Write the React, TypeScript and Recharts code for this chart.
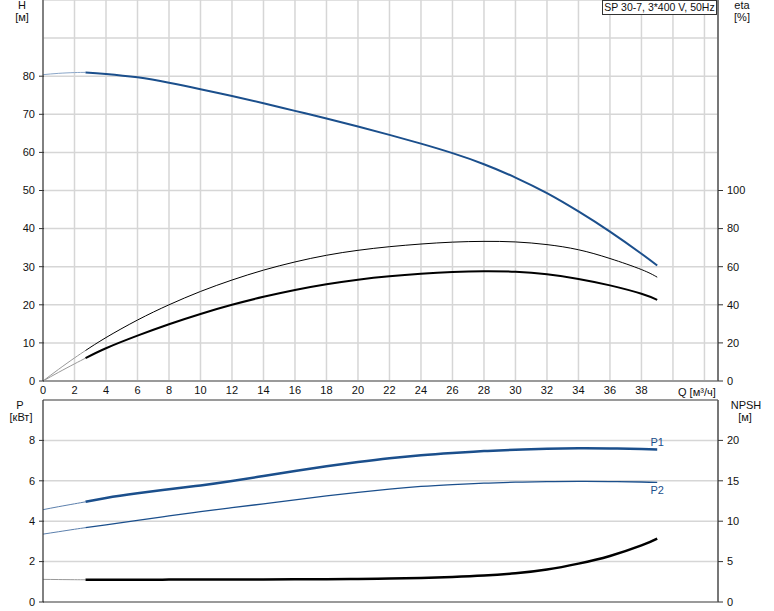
import { ComposedChart, Line, XAxis, YAxis, CartesianGrid, ReferenceLine } from "recharts";

const FONT = "'Liberation Sans', Arial, sans-serif";
const BLUE = "#1b4f8c";
const GRID = "#d6d6d6";

// flow axis
const qTicks = [0, 2, 4, 6, 8, 10, 12, 14, 16, 18, 20, 22, 24, 26, 28, 30, 32, 34, 36, 38, 40, 42];
const qMaxLabel = 38;

// curve points (Q in m3/h)
const qStart = [0, 1, 2, 2.7];
const qMain = [2.7, 4, 6, 8, 10, 12, 14, 16, 18, 20, 22, 24, 26, 28, 30, 32, 34, 36, 38, 39];

const headStart = [80.4, 80.75, 80.95, 81.0];
const headMain = [81.0, 80.6, 79.7, 78.3, 76.6, 74.8, 72.9, 70.9, 68.9, 66.8, 64.6, 62.3, 59.8, 56.9, 53.4, 49.3, 44.5, 39.2, 33.4, 30.3];

const etaUpperStart = [0, 6.2, 12.1, 16.0];
const etaUpperMain = [16.0, 22.8, 32.0, 40.0, 47.0, 53.0, 58.2, 62.5, 66.0, 68.6, 70.5, 71.9, 72.9, 73.3, 73.0, 71.6, 68.9, 64.3, 58.5, 54.5];

const etaLowerStart = [0, 4.6, 9.0, 12.0];
const etaLowerMain = [12.0, 17.2, 23.8, 29.8, 35.2, 40.0, 44.2, 47.8, 50.8, 53.2, 55.0, 56.3, 57.2, 57.6, 57.3, 56.0, 53.6, 50.2, 45.8, 42.6];

const p1Start = [4.57, 4.72, 4.86, 4.96];
const p1Main = [4.96, 5.15, 5.38, 5.58, 5.77, 5.99, 6.24, 6.49, 6.72, 6.93, 7.12, 7.27, 7.38, 7.47, 7.54, 7.59, 7.61, 7.6, 7.57, 7.55];

const p2Start = [3.36, 3.48, 3.6, 3.68];
const p2Main = [3.68, 3.82, 4.04, 4.26, 4.47, 4.67, 4.86, 5.06, 5.25, 5.43, 5.59, 5.72, 5.81, 5.88, 5.93, 5.96, 5.97, 5.96, 5.94, 5.92];

const npshStart = [2.8, 2.78, 2.76, 2.75];
const npshMain = [2.75, 2.75, 2.76, 2.77, 2.78, 2.79, 2.8, 2.81, 2.83, 2.86, 2.91, 2.98, 3.1, 3.27, 3.55, 4.02, 4.75, 5.7, 7.0, 7.85];

// axis ticks
const hTicks = [0, 10, 20, 30, 40, 50, 60, 70, 80, 90, 100];
const hMaxLabel = 80;
const etaTicks = [0, 20, 40, 60, 80, 100];
const pTicks = [0, 2, 4, 6, 8, 10];
const pMaxLabel = 8;
const npshTicks = [0, 5, 10, 15, 20];

const pts = (q: number[], v: number[]) => q.map((x, i) => ({ q: x, v: v[i] }));

const leftTick = (maxLabel: number) => (props: any) => {
  const { x, y, payload } = props;
  if (payload.value > maxLabel) return null;
  return (
    <g>
      <line x1={x + 4} x2={x + 9} y1={y} y2={y} stroke="#333" />
      <text x={x} y={y} dy="0.35em" textAnchor="end" fontSize={11} fontFamily={FONT} fill="#111">
        {payload.value}
      </text>
    </g>
  );
};

const rightTick = (props: any) => {
  const { x, y, payload } = props;
  return (
    <g>
      <line x1={x - 9} x2={x - 4} y1={y} y2={y} stroke="#333" />
      <text x={x} y={y} dy="0.35em" textAnchor="start" fontSize={11} fontFamily={FONT} fill="#111">
        {payload.value}
      </text>
    </g>
  );
};

const bottomTick = (props: any) => {
  const { x, y, payload } = props;
  if (payload.value > qMaxLabel) return null;
  return (
    <text x={x} y={y} dy="0.71em" textAnchor="middle" fontSize={11} fontFamily={FONT} fill="#111">
      {payload.value}
    </text>
  );
};

const endLabel = (text: string, dy: number, count: number) => (props: any) => {
  if (props.index !== count - 1) return null;
  return (
    <text x={props.x} y={props.y + dy} textAnchor="middle" fontSize={11} fontFamily={FONT} fill={BLUE}>
      {text}
    </text>
  );
};

const Txt = ({ x, y, children, anchor = "center" }: any) => (
  <div
    style={{
      position: "absolute",
      left: x,
      top: y,
      transform: anchor === "center" ? "translate(-50%, -50%)" : "translate(0, -50%)",
      fontFamily: FONT,
      fontSize: 11,
      color: "#111",
      whiteSpace: "nowrap",
      lineHeight: "12px",
    }}
  >
    {children}
  </div>
);

export default function App() {
  return (
    <div style={{ position: "absolute", left: 0, top: 0, width: 774, height: 611, background: "#fff" }}>
      <div style={{ position: "absolute", left: 0, top: 0 }}>
        <ComposedChart width={774} height={400} margin={{ top: 0, right: 0, bottom: 0, left: 0 }}>
          <CartesianGrid stroke={GRID} strokeWidth={1.5} yAxisId="h" xAxisId="q" />
          <XAxis
            xAxisId="q"
            type="number"
            dataKey="q"
            domain={[0, 42.86]}
            ticks={qTicks}
            allowDataOverflow
            height={19}
            tickLine={false}
            tickSize={0}
            tickMargin={5}
            axisLine={{ stroke: "#9a9a9a", strokeWidth: 2 }}
            tick={bottomTick}
          />
          <YAxis
            yAxisId="h"
            orientation="left"
            width={43}
            domain={[0, 100]}
            ticks={hTicks}
            tickLine={false}
            tickSize={4}
            tickMargin={4}
            axisLine={{ stroke: "#222" }}
            tick={leftTick(hMaxLabel)}
          />
          <YAxis
            yAxisId="eta"
            orientation="right"
            width={56}
            domain={[0, 200]}
            ticks={etaTicks}
            tickLine={false}
            tickSize={5}
            tickMargin={4}
            axisLine={{ stroke: "#555", strokeWidth: 1.5 }}
            tick={rightTick}
          />
          <Line xAxisId="q" yAxisId="h" data={pts(qStart, headStart)} dataKey="v" type="natural" stroke="#8aa6c8" strokeWidth={1} dot={false} isAnimationActive={false} />
          <Line xAxisId="q" yAxisId="h" data={pts(qMain, headMain)} dataKey="v" type="natural" stroke={BLUE} strokeWidth={2} dot={false} isAnimationActive={false} />
          <Line xAxisId="q" yAxisId="eta" data={pts(qStart, etaUpperStart)} dataKey="v" type="natural" stroke="#999" strokeWidth={1} dot={false} isAnimationActive={false} />
          <Line xAxisId="q" yAxisId="eta" data={pts(qMain, etaUpperMain)} dataKey="v" type="natural" stroke="#000" strokeWidth={1} dot={false} isAnimationActive={false} />
          <Line xAxisId="q" yAxisId="eta" data={pts(qStart, etaLowerStart)} dataKey="v" type="natural" stroke="#999" strokeWidth={1} dot={false} isAnimationActive={false} />
          <Line xAxisId="q" yAxisId="eta" data={pts(qMain, etaLowerMain)} dataKey="v" type="natural" stroke="#000" strokeWidth={2} dot={false} isAnimationActive={false} />
        </ComposedChart>
      </div>

      <div style={{ position: "absolute", left: 0, top: 395 }}>
        <ComposedChart width={774} height={216} margin={{ top: 5, right: 0, bottom: 0, left: 0 }}>
          <CartesianGrid stroke={GRID} strokeWidth={1.5} yAxisId="p" xAxisId="q" />
          <XAxis
            xAxisId="q"
            type="number"
            dataKey="q"
            domain={[0, 42.86]}
            ticks={qTicks}
            allowDataOverflow
            height={9}
            tick={false}
            tickLine={false}
            axisLine={{ stroke: "#9a9a9a", strokeWidth: 2 }}
          />
          <YAxis
            yAxisId="p"
            orientation="left"
            width={43}
            domain={[0, 10]}
            ticks={pTicks}
            tickLine={false}
            tickSize={4}
            tickMargin={4}
            axisLine={{ stroke: "#222" }}
            tick={leftTick(pMaxLabel)}
          />
          <YAxis
            yAxisId="npsh"
            orientation="right"
            width={56}
            domain={[0, 25]}
            ticks={npshTicks}
            tickLine={false}
            tickSize={5}
            tickMargin={4}
            axisLine={{ stroke: "#555", strokeWidth: 1.5 }}
            tick={rightTick}
          />
          <ReferenceLine xAxisId="q" yAxisId="p" y={10} stroke="#9a9a9a" strokeWidth={2} />
          <Line xAxisId="q" yAxisId="p" data={pts(qStart, p1Start)} dataKey="v" type="natural" stroke="#5c80ad" strokeWidth={1} dot={false} isAnimationActive={false} />
          <Line
            xAxisId="q"
            yAxisId="p"
            data={pts(qMain, p1Main)}
            dataKey="v"
            type="natural"
            stroke={BLUE}
            strokeWidth={2.5}
            dot={false}
            isAnimationActive={false}
            label={endLabel("P1", -3, qMain.length)}
          />
          <Line xAxisId="q" yAxisId="p" data={pts(qStart, p2Start)} dataKey="v" type="natural" stroke="#5c80ad" strokeWidth={1} dot={false} isAnimationActive={false} />
          <Line
            xAxisId="q"
            yAxisId="p"
            data={pts(qMain, p2Main)}
            dataKey="v"
            type="natural"
            stroke={BLUE}
            strokeWidth={1.3}
            dot={false}
            isAnimationActive={false}
            label={endLabel("P2", 12, qMain.length)}
          />
          <Line xAxisId="q" yAxisId="npsh" data={pts(qStart, npshStart)} dataKey="v" type="natural" stroke="#999" strokeWidth={1} dot={false} isAnimationActive={false} />
          <Line xAxisId="q" yAxisId="npsh" data={pts(qMain, npshMain)} dataKey="v" type="natural" stroke="#000" strokeWidth={2.5} dot={false} isAnimationActive={false} />
        </ComposedChart>
      </div>

      <Txt x={22} y={5}>H</Txt>
      <Txt x={22} y={17}>[м]</Txt>
      <Txt x={742} y={5}>eta</Txt>
      <Txt x={742} y={17}>[%]</Txt>
      <Txt x={20} y={405}>P</Txt>
      <Txt x={21} y={417}>[кВт]</Txt>
      <Txt x={746} y={405}>NPSH</Txt>
      <Txt x={745} y={417}>[м]</Txt>
      <Txt x={678} y={392} anchor="left">Q [м³/ч]</Txt>
      <div
        style={{
          position: "absolute",
          left: 602,
          top: 0,
          width: 115,
          height: 15,
          boxSizing: "border-box",
          border: "1px solid #333",
          background: "#fff",
          fontFamily: FONT,
          fontSize: 10.5,
          lineHeight: "13px",
          textAlign: "center",
          color: "#111",
          whiteSpace: "nowrap",
        }}
      >
        SP 30-7, 3*400 V, 50Hz
      </div>
    </div>
  );
}
